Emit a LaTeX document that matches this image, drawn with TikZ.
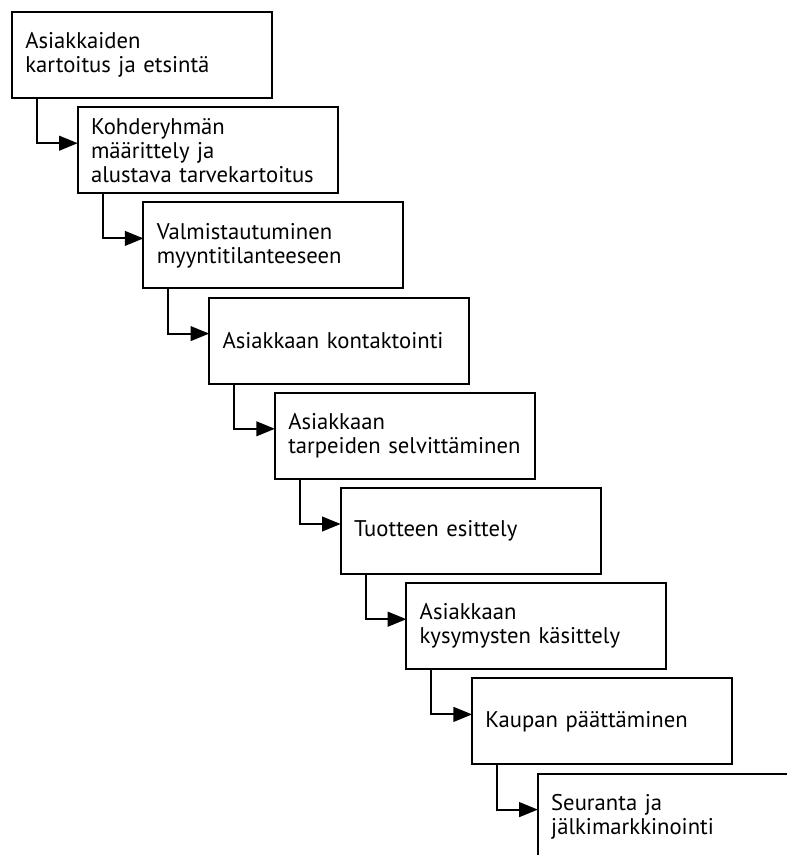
\documentclass[tikz,border=0pt]{standalone}
\usepackage{fontspec}
\setmainfont{PT Sans}
\usetikzlibrary{positioning,arrows.meta}

\begin{document}
\begin{tikzpicture}[x=0.75pt,y=-0.75pt,
		stepbox/.style={draw,line width=1.5pt,outer sep=0pt,anchor=north west,minimum width=195pt,minimum height=64.5pt,
			text width=175pt,inner xsep=10pt,align=left,font=\fontsize{17}{18}\selectfont},
		flow/.style={line width=1.5pt,-{Triangle[length=14pt,width=11pt]}}]
			\useasboundingbox (0,0) rectangle (787,855);
			\node[stepbox] (s1) at (12,12) {Asiakkaiden\\kartoitus ja etsintä};
			\node[stepbox,below right=6.9pt and 49.3pt of s1.south west] (s2) {Kohderyhmän\\määrittely ja\\alustava tarvekartoitus};
			\node[stepbox,below right=6.9pt and 49.3pt of s2.south west] (s3) {Valmistautuminen\\myyntitilanteeseen};
			\node[stepbox,below right=6.9pt and 49.3pt of s3.south west] (s4) {Asiakkaan kontaktointi};
			\node[stepbox,below right=6.9pt and 49.3pt of s4.south west] (s5) {Asiakkaan\\tarpeiden selvittäminen};
			\node[stepbox,below right=6.9pt and 49.3pt of s5.south west] (s6) {Tuotteen esittely};
			\node[stepbox,below right=6.9pt and 49.3pt of s6.south west] (s7) {Asiakkaan\\kysymysten käsittely};
			\node[stepbox,below right=6.9pt and 49.3pt of s7.south west] (s8) {Kaupan päättäminen};
			\node[stepbox,below right=6.9pt and 49.3pt of s8.south west] (s9) {Seuranta ja\\jälkimarkkinointi};
			\foreach \a/\b in {s1/s2,s2/s3,s3/s4,s4/s5,s5/s6,s6/s7,s7/s8,s8/s9}
				\draw[flow] ([xshift=18.75pt]\a.south west) |- ([yshift=-27pt]\b.north west);
		\end{tikzpicture}
\end{document}
